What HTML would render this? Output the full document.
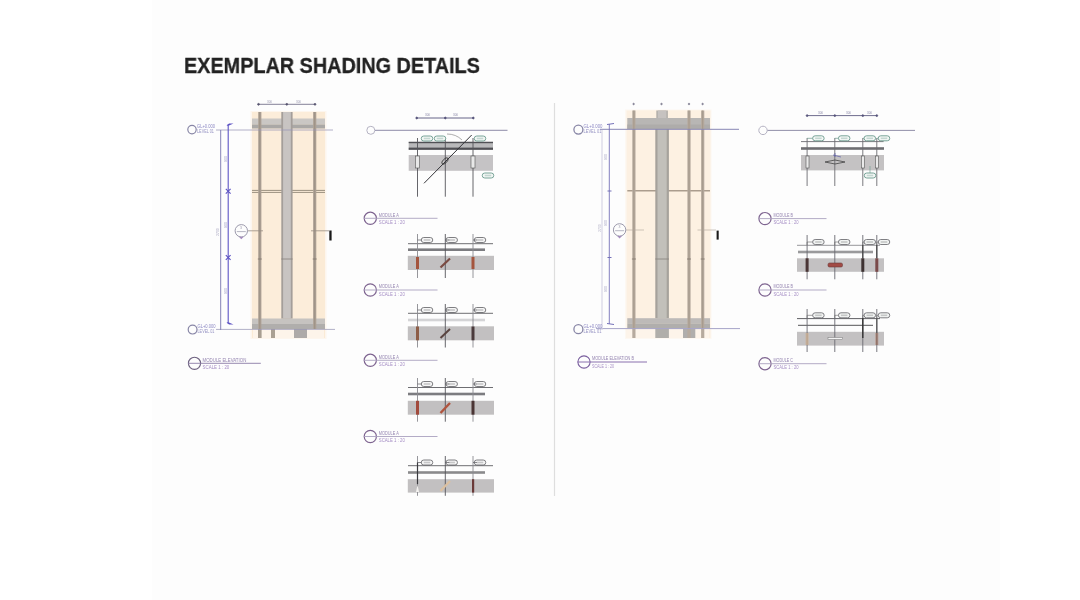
<!DOCTYPE html>
<html><head><meta charset="utf-8"><style>
html,body{margin:0;padding:0;background:#ffffff;}
body{width:1080px;height:600px;position:relative;overflow:hidden;font-family:"Liberation Sans",sans-serif;}
#slide{position:absolute;left:152px;top:0;width:848px;height:600px;background:#fdfdfd;}
#title{position:absolute;left:184px;top:52.8px;font-size:22.3px;font-weight:bold;color:#222;white-space:nowrap;transform-origin:0 0;transform:scaleX(0.889);will-change:transform;-webkit-text-stroke:0.3px #222;}
#wrap{position:absolute;left:0;top:0;width:1080px;height:600px;}
svg{position:absolute;left:0;top:0;}
</style></head><body>
<div id="slide"></div>
<div id="title">EXEMPLAR SHADING DETAILS</div>
<div id="wrap"><svg width="1080" height="600" viewBox="0 0 1080 600">
<rect x="250.5" y="111" width="76.0" height="228" fill="#fdf6ee" />
<rect x="252" y="112" width="73" height="226" fill="#fbebd6" />
<rect x="260.8" y="112" width="52.9" height="226" fill="#fcedda" />
<rect x="252" y="118.5" width="73" height="6.0" fill="#cac7c4" />
<rect x="252" y="124.5" width="73" height="4.0" fill="#aaa8a6" />
<line x1="252" y1="190.4" x2="325" y2="190.4" stroke="#8f8474" stroke-width="0.9" />
<line x1="252" y1="192.4" x2="325" y2="192.4" stroke="#8f8474" stroke-width="0.9" />
<rect x="252" y="318.5" width="73" height="5.5" fill="#c6c3c0" />
<rect x="252" y="324" width="73" height="5" fill="#b0aeac" />
<rect x="258.2" y="112" width="3.2" height="226" fill="#aea296" />
<line x1="259.8" y1="112" x2="259.8" y2="338" stroke="#9a8e82" stroke-width="0.9" />
<rect x="313.09999999999997" y="112" width="3.2" height="226" fill="#aea296" />
<line x1="314.7" y1="112" x2="314.7" y2="338" stroke="#9a8e82" stroke-width="0.9" />
<rect x="281.3" y="112" width="11.3" height="206.5" fill="#a49e9a" />
<rect x="283.1" y="112" width="7.7" height="206.5" fill="#c8c4c2" />
<rect x="253" y="329" width="71" height="9" fill="#fdf4ea" />
<rect x="258.0" y="329" width="3.6" height="9" fill="#a89e92" />
<rect x="271" y="329" width="4" height="9" fill="#aaa092" />
<rect x="294" y="329" width="13" height="9" fill="#aeaaa8" />
<line x1="257.8" y1="259" x2="261.8" y2="259" stroke="#7f746a" stroke-width="0.8" />
<line x1="312.7" y1="259" x2="316.7" y2="259" stroke="#7f746a" stroke-width="0.8" />
<line x1="281.3" y1="259" x2="292.6" y2="259" stroke="#86807c" stroke-width="0.8" />
<line x1="258.5" y1="104.3" x2="315" y2="104.3" stroke="#75738c" stroke-width="0.9" />
<circle cx="258.5" cy="104.3" r="0.9" stroke="#55536e" stroke-width="0.8" fill="#55536e"/>
<circle cx="286.8" cy="104.3" r="0.9" stroke="#55536e" stroke-width="0.8" fill="#55536e"/>
<circle cx="315" cy="104.3" r="0.9" stroke="#55536e" stroke-width="0.8" fill="#55536e"/>
<text x="267" y="102.5" font-size="3" fill="#9a98b0">300</text>
<text x="296" y="102.5" font-size="3" fill="#9a98b0">300</text>
<line x1="216" y1="130" x2="333" y2="130" stroke="#9896b6" stroke-width="0.75" />
<line x1="216" y1="329.4" x2="335" y2="329.4" stroke="#9896b6" stroke-width="0.75" />
<line x1="220.7" y1="130" x2="220.7" y2="330" stroke="#8380b6" stroke-width="1.0" />
<line x1="228.2" y1="124" x2="228.2" y2="324" stroke="#5e54c4" stroke-width="1.1" />
<path d="M226.5 126 L229 123.5 L233.5 123.5 L229 125.5 Z" fill="#5e54c4"/>
<path d="M226.5 322 L229 324.5 L233.5 324.5 L229 322.5 Z" fill="#5e54c4"/>
<line x1="225.8" y1="188.9" x2="230.6" y2="193.70000000000002" stroke="#5e54c4" stroke-width="1.1" />
<line x1="225.8" y1="193.70000000000002" x2="230.6" y2="188.9" stroke="#5e54c4" stroke-width="1.1" />
<line x1="225.8" y1="255.1" x2="230.6" y2="259.9" stroke="#5e54c4" stroke-width="1.1" />
<line x1="225.8" y1="259.9" x2="230.6" y2="255.1" stroke="#5e54c4" stroke-width="1.1" />
<text x="0" y="0" font-size="3.5" fill="#9a98c0" transform="translate(226.6 162) rotate(-90)">900</text>
<text x="0" y="0" font-size="3.5" fill="#9a98c0" transform="translate(226.6 228) rotate(-90)">900</text>
<text x="0" y="0" font-size="3.5" fill="#9a98c0" transform="translate(226.6 294) rotate(-90)">900</text>
<text x="0" y="0" font-size="3.5" fill="#a8a6c0" transform="translate(219.3 236) rotate(-90)">2700</text>
<circle cx="192" cy="129.6" r="4.2" stroke="#8886a6" stroke-width="1.2" fill="none"/>
<circle cx="192.6" cy="329.6" r="4.4" stroke="#8886a6" stroke-width="1.2" fill="none"/>
<text x="197" y="128.4" font-size="4.6" fill="#8c88c4" textLength="18" lengthAdjust="spacingAndGlyphs">GL+0.000</text>
<text x="197" y="133.4" font-size="4.6" fill="#9794c4" textLength="17" lengthAdjust="spacingAndGlyphs">LEVEL 01</text>
<text x="197.5" y="328.40000000000003" font-size="4.6" fill="#8c88c4" textLength="18" lengthAdjust="spacingAndGlyphs">GL+0.000</text>
<text x="197.5" y="333.40000000000003" font-size="4.6" fill="#9794c4" textLength="17" lengthAdjust="spacingAndGlyphs">LEVEL 01</text>
<circle cx="241.3" cy="230.8" r="6.2" stroke="#9a98aa" stroke-width="1.0" fill="#fdfdfd"/>
<line x1="236.8" y1="231.60000000000002" x2="245.8" y2="231.60000000000002" stroke="#9a98aa" stroke-width="0.7" />
<text x="240.10000000000002" y="229.3" font-size="3.5" fill="#9a98aa">3</text>
<path d="M238.9 236.8 L241.3 239.3 L243.70000000000002 236.8 Z" fill="#a48cbc"/>
<line x1="248" y1="230.8" x2="263" y2="230.8" stroke="#978c82" stroke-width="0.8" />
<line x1="311" y1="230.8" x2="329" y2="230.8" stroke="#978c82" stroke-width="0.8" />
<rect x="329.3" y="230.5" width="2.3" height="10.0" fill="#1a1a1a" />
<circle cx="194.5" cy="363.3" r="6.1" stroke="#6e6280" stroke-width="1.1" fill="none"/>
<line x1="188" y1="363.3" x2="260.8" y2="363.3" stroke="#8a7aa6" stroke-width="0.9" />
<text x="202.6" y="361.7" font-size="5" fill="#9484b0" textLength="43.7" lengthAdjust="spacingAndGlyphs">MODULE ELEVATION</text>
<text x="202.6" y="368.90000000000003" font-size="5" fill="#a48cc4" textLength="26.7" lengthAdjust="spacingAndGlyphs">SCALE 1 : 20</text>
<line x1="416.7" y1="118" x2="473.3" y2="118" stroke="#55537a" stroke-width="0.9" />
<circle cx="416.7" cy="118" r="0.9" stroke="#55537a" stroke-width="0.8" fill="#55537a"/>
<circle cx="445.3" cy="118" r="0.9" stroke="#55537a" stroke-width="0.8" fill="#55537a"/>
<circle cx="473.3" cy="118" r="0.9" stroke="#55537a" stroke-width="0.8" fill="#55537a"/>
<circle cx="370.8" cy="130.3" r="4.0" stroke="#b4b2c2" stroke-width="1.0" fill="none"/>
<line x1="375" y1="130.3" x2="507.5" y2="130.3" stroke="#807e9e" stroke-width="0.9" />
<rect x="408.7" y="141.8" width="84.3" height="8.0" fill="#b9b9bb" />
<rect x="408.7" y="141.8" width="84.3" height="1.4" fill="#505055" />
<rect x="408.7" y="147.6" width="84.3" height="2.2" fill="#505055" />
<text x="425" y="116" font-size="3" fill="#8a88a8">300</text>
<text x="453" y="116" font-size="3" fill="#8a88a8">300</text>
<path d="M447 134 Q456 134 462 140" fill="none" stroke="#777" stroke-width="0.6"/>
<rect x="408.7" y="155" width="84.3" height="15.8" fill="#c5c3c5" />
<line x1="417.5" y1="138" x2="417.5" y2="196.7" stroke="#55555a" stroke-width="0.9" />
<line x1="445.3" y1="138" x2="445.3" y2="196.7" stroke="#55555a" stroke-width="0.9" />
<line x1="473" y1="138" x2="473" y2="196.7" stroke="#55555a" stroke-width="0.9" />
<line x1="424" y1="183.3" x2="471.7" y2="135" stroke="#333338" stroke-width="1.0" />
<rect x="421.25" y="136.0" width="11.5" height="5" rx="2.5" fill="#f4f8f6" stroke="#6a9a8c" stroke-width="0.9"/>
<rect x="423.75" y="137.7" width="6.5" height="1.6" fill="#6a9a8c" opacity="0.35"/>
<rect x="434.25" y="136.0" width="11.5" height="5" rx="2.5" fill="#f4f8f6" stroke="#6a9a8c" stroke-width="0.9"/>
<rect x="436.75" y="137.7" width="6.5" height="1.6" fill="#6a9a8c" opacity="0.35"/>
<rect x="474.25" y="136.0" width="11.5" height="5" rx="2.5" fill="#f4f8f6" stroke="#6a9a8c" stroke-width="0.9"/>
<rect x="476.75" y="137.7" width="6.5" height="1.6" fill="#6a9a8c" opacity="0.35"/>
<rect x="482.25" y="173.0" width="11.5" height="5" rx="2.5" fill="#f4f8f6" stroke="#6a9a8c" stroke-width="0.9"/>
<rect x="484.75" y="174.7" width="6.5" height="1.6" fill="#6a9a8c" opacity="0.35"/>
<ellipse cx="445" cy="161" rx="4" ry="2" fill="none" stroke="#333" stroke-width="0.8" transform="rotate(-45 445 161)"/>
<rect x="415.5" y="156" width="4.0" height="12" fill="#e8e8e8" stroke="#555" stroke-width="0.6"/>
<rect x="471" y="156" width="4" height="12" fill="#e8e8e8" stroke="#555" stroke-width="0.6"/>
<circle cx="370.3" cy="218.3" r="6.1" stroke="#7e6490" stroke-width="1.2" fill="none"/>
<line x1="363.8" y1="218.3" x2="437.5" y2="218.3" stroke="#aaa2c0" stroke-width="0.9" />
<text x="378.8" y="216.70000000000002" font-size="5" fill="#9484b0" textLength="20" lengthAdjust="spacingAndGlyphs">MODULE A</text>
<text x="378.8" y="223.9" font-size="5" fill="#a48cc4" textLength="26" lengthAdjust="spacingAndGlyphs">SCALE 1 : 20</text>
<rect x="421.25" y="237.5" width="11.5" height="5" rx="2.5" fill="#f6f6f6" stroke="#707074" stroke-width="0.9"/>
<rect x="423.75" y="239.2" width="6.5" height="1.6" fill="#707074" opacity="0.35"/>
<rect x="445.95" y="237.5" width="11.5" height="5" rx="2.5" fill="#f6f6f6" stroke="#707074" stroke-width="0.9"/>
<rect x="448.45" y="239.2" width="6.5" height="1.6" fill="#707074" opacity="0.35"/>
<rect x="474.25" y="237.5" width="11.5" height="5" rx="2.5" fill="#f6f6f6" stroke="#707074" stroke-width="0.9"/>
<rect x="476.75" y="239.2" width="6.5" height="1.6" fill="#707074" opacity="0.35"/>
<line x1="408" y1="243.7" x2="493" y2="243.7" stroke="#5d5d62" stroke-width="0.9" />
<rect x="408" y="248.39999999999998" width="77" height="2.6" fill="#7c7c80" />
<rect x="407.8" y="255.8" width="86.2" height="14.2" fill="#c2c0c1" />
<line x1="417.5" y1="234" x2="417.5" y2="278" stroke="#8a8a90" stroke-width="0.9" />
<line x1="417.5" y1="240" x2="421.5" y2="240" stroke="#5a5a60" stroke-width="0.7" />
<line x1="445.3" y1="234" x2="445.3" y2="278" stroke="#55555a" stroke-width="0.9" />
<line x1="445.3" y1="240" x2="449.3" y2="240" stroke="#5a5a60" stroke-width="0.7" />
<line x1="473" y1="234" x2="473" y2="278" stroke="#8a8a90" stroke-width="0.9" />
<line x1="473" y1="240" x2="477" y2="240" stroke="#5a5a60" stroke-width="0.7" />
<rect x="416" y="257" width="3" height="12" fill="#a4553e"/>
<rect x="471.5" y="257" width="3" height="12" fill="#a4553e"/>
<line x1="440.5" y1="267.5" x2="450" y2="258.5" stroke="#7a4a42" stroke-width="2.2"/>
<circle cx="370.3" cy="290" r="6.1" stroke="#7e6490" stroke-width="1.2" fill="none"/>
<line x1="363.8" y1="290" x2="437.5" y2="290" stroke="#aaa2c0" stroke-width="0.9" />
<text x="378.8" y="288.4" font-size="5" fill="#9484b0" textLength="20" lengthAdjust="spacingAndGlyphs">MODULE A</text>
<text x="378.8" y="295.6" font-size="5" fill="#a48cc4" textLength="26" lengthAdjust="spacingAndGlyphs">SCALE 1 : 20</text>
<rect x="421.25" y="307.5" width="11.5" height="5" rx="2.5" fill="#f6f6f6" stroke="#707074" stroke-width="0.9"/>
<rect x="423.75" y="309.2" width="6.5" height="1.6" fill="#707074" opacity="0.35"/>
<rect x="445.95" y="307.5" width="11.5" height="5" rx="2.5" fill="#f6f6f6" stroke="#707074" stroke-width="0.9"/>
<rect x="448.45" y="309.2" width="6.5" height="1.6" fill="#707074" opacity="0.35"/>
<rect x="474.25" y="307.5" width="11.5" height="5" rx="2.5" fill="#f6f6f6" stroke="#707074" stroke-width="0.9"/>
<rect x="476.75" y="309.2" width="6.5" height="1.6" fill="#707074" opacity="0.35"/>
<line x1="408" y1="313.3" x2="493" y2="313.3" stroke="#5d5d62" stroke-width="0.9" />
<rect x="408" y="318.7" width="77" height="2.6" fill="#d4d4d6" />
<rect x="407.8" y="326.3" width="86.2" height="14.0" fill="#c2c0c1" />
<line x1="417.5" y1="304" x2="417.5" y2="347.5" stroke="#8a8a90" stroke-width="0.9" />
<line x1="417.5" y1="310" x2="421.5" y2="310" stroke="#5a5a60" stroke-width="0.7" />
<line x1="445.3" y1="304" x2="445.3" y2="347.5" stroke="#55555a" stroke-width="0.9" />
<line x1="445.3" y1="310" x2="449.3" y2="310" stroke="#5a5a60" stroke-width="0.7" />
<line x1="473" y1="304" x2="473" y2="347.5" stroke="#8a8a90" stroke-width="0.9" />
<line x1="473" y1="310" x2="477" y2="310" stroke="#5a5a60" stroke-width="0.7" />
<rect x="416" y="326.5" width="3" height="13.8" fill="#8e5e48"/>
<rect x="471.5" y="326.5" width="3" height="13.8" fill="#4a3a3c"/>
<line x1="440.5" y1="338" x2="450" y2="329" stroke="#5a4440" stroke-width="2.0"/>
<circle cx="370.3" cy="360.3" r="6.1" stroke="#7e6490" stroke-width="1.2" fill="none"/>
<line x1="363.8" y1="360.3" x2="437.5" y2="360.3" stroke="#aaa2c0" stroke-width="0.9" />
<text x="378.8" y="358.7" font-size="5" fill="#9484b0" textLength="20" lengthAdjust="spacingAndGlyphs">MODULE A</text>
<text x="378.8" y="365.90000000000003" font-size="5" fill="#a48cc4" textLength="26" lengthAdjust="spacingAndGlyphs">SCALE 1 : 20</text>
<rect x="421.25" y="381.5" width="11.5" height="5" rx="2.5" fill="#f6f6f6" stroke="#707074" stroke-width="0.9"/>
<rect x="423.75" y="383.2" width="6.5" height="1.6" fill="#707074" opacity="0.35"/>
<rect x="445.95" y="381.5" width="11.5" height="5" rx="2.5" fill="#f6f6f6" stroke="#707074" stroke-width="0.9"/>
<rect x="448.45" y="383.2" width="6.5" height="1.6" fill="#707074" opacity="0.35"/>
<rect x="474.25" y="381.5" width="11.5" height="5" rx="2.5" fill="#f6f6f6" stroke="#707074" stroke-width="0.9"/>
<rect x="476.75" y="383.2" width="6.5" height="1.6" fill="#707074" opacity="0.35"/>
<line x1="408" y1="387.5" x2="493" y2="387.5" stroke="#5d5d62" stroke-width="0.9" />
<rect x="408" y="392.7" width="77" height="2.6" fill="#7c7c80" />
<rect x="407.8" y="400.8" width="86.2" height="13.9" fill="#c2c0c1" />
<line x1="417.5" y1="378" x2="417.5" y2="421.7" stroke="#8a8a90" stroke-width="0.9" />
<line x1="417.5" y1="384" x2="421.5" y2="384" stroke="#5a5a60" stroke-width="0.7" />
<line x1="445.3" y1="378" x2="445.3" y2="421.7" stroke="#55555a" stroke-width="0.9" />
<line x1="445.3" y1="384" x2="449.3" y2="384" stroke="#5a5a60" stroke-width="0.7" />
<line x1="473" y1="378" x2="473" y2="421.7" stroke="#8a8a90" stroke-width="0.9" />
<line x1="473" y1="384" x2="477" y2="384" stroke="#5a5a60" stroke-width="0.7" />
<rect x="416" y="400.8" width="3" height="13.9" fill="#a24a3c"/>
<rect x="471.5" y="400.8" width="3" height="13.9" fill="#4a3434"/>
<line x1="440.5" y1="413" x2="450" y2="403" stroke="#b0543e" stroke-width="2.4"/>
<circle cx="370.3" cy="436.5" r="6.1" stroke="#7e6490" stroke-width="1.2" fill="none"/>
<line x1="363.8" y1="436.5" x2="437.5" y2="436.5" stroke="#aaa2c0" stroke-width="0.9" />
<text x="378.8" y="434.9" font-size="5" fill="#9484b0" textLength="20" lengthAdjust="spacingAndGlyphs">MODULE A</text>
<text x="378.8" y="442.1" font-size="5" fill="#a48cc4" textLength="26" lengthAdjust="spacingAndGlyphs">SCALE 1 : 20</text>
<rect x="421.25" y="460.0" width="11.5" height="5" rx="2.5" fill="#f6f6f6" stroke="#707074" stroke-width="0.9"/>
<rect x="423.75" y="461.7" width="6.5" height="1.6" fill="#707074" opacity="0.35"/>
<rect x="445.95" y="460.0" width="11.5" height="5" rx="2.5" fill="#f6f6f6" stroke="#707074" stroke-width="0.9"/>
<rect x="448.45" y="461.7" width="6.5" height="1.6" fill="#707074" opacity="0.35"/>
<rect x="474.25" y="460.0" width="11.5" height="5" rx="2.5" fill="#f6f6f6" stroke="#707074" stroke-width="0.9"/>
<rect x="476.75" y="461.7" width="6.5" height="1.6" fill="#707074" opacity="0.35"/>
<line x1="408" y1="465.7" x2="493" y2="465.7" stroke="#5d5d62" stroke-width="0.9" />
<rect x="408" y="471.2" width="77" height="2.6" fill="#8a8a8c" />
<rect x="407.8" y="479.2" width="86.2" height="13.4" fill="#c2c0c1" />
<line x1="417.5" y1="456" x2="417.5" y2="495.8" stroke="#8a8a90" stroke-width="0.9" />
<line x1="417.5" y1="462.5" x2="421.5" y2="462.5" stroke="#5a5a60" stroke-width="0.7" />
<line x1="445.3" y1="456" x2="445.3" y2="495.8" stroke="#55555a" stroke-width="0.9" />
<line x1="445.3" y1="462.5" x2="449.3" y2="462.5" stroke="#5a5a60" stroke-width="0.7" />
<line x1="473" y1="456" x2="473" y2="495.8" stroke="#8a8a90" stroke-width="0.9" />
<line x1="473" y1="462.5" x2="477" y2="462.5" stroke="#5a5a60" stroke-width="0.7" />
<path d="M416 492 L417.5 485 L419 492 Z" fill="#f4f2f0"/>
<line x1="417.5" y1="462.5" x2="417.5" y2="484" stroke="#3a3a3e" stroke-width="1.2"/>
<rect x="472" y="479.2" width="2.2" height="13.4" fill="#6a3a38"/>
<line x1="440.5" y1="491" x2="450" y2="481" stroke="#dcc0a0" stroke-width="2.2"/>
<line x1="554.5" y1="103" x2="554.5" y2="496" stroke="#dedede" stroke-width="1.2" />
<rect x="625" y="109.5" width="86.5" height="229.5" fill="#fdf8f2" />
<rect x="626.5" y="110.5" width="84.0" height="227.5" fill="#fcf0e2" />
<rect x="634.9" y="110.5" width="66.8" height="227.5" fill="#fdf1e2" />
<rect x="627.3" y="118" width="82.7" height="11" fill="#b8b6b4" />
<rect x="627.3" y="124.5" width="82.7" height="4.5" fill="#aeacaa" />
<line x1="627.3" y1="190.8" x2="710" y2="190.8" stroke="#ab9d8e" stroke-width="1.4" />
<rect x="627.3" y="318.2" width="82.7" height="5.1" fill="#bdbab8" />
<rect x="627.3" y="323.3" width="82.7" height="5.2" fill="#b0aeac" />
<rect x="632.3" y="110.5" width="3.2" height="227.5" fill="#b6aa9e" />
<line x1="633.9" y1="110.5" x2="633.9" y2="338" stroke="#a39689" stroke-width="0.9" />
<rect x="687.4" y="110.5" width="3.2" height="227.5" fill="#b6aa9e" />
<line x1="689" y1="110.5" x2="689" y2="338" stroke="#a39689" stroke-width="0.9" />
<rect x="701.1" y="110.5" width="3.2" height="227.5" fill="#b6aa9e" />
<line x1="702.7" y1="110.5" x2="702.7" y2="338" stroke="#a39689" stroke-width="0.9" />
<rect x="656.3" y="110.5" width="11.6" height="7.5" fill="#b4b0ac" />
<rect x="657.9" y="110.5" width="8.4" height="7.5" fill="#c6c2c0" />
<rect x="655.3" y="129" width="13.6" height="189.2" fill="#a6a29c" />
<rect x="657.5" y="129" width="9.2" height="189.2" fill="#c2c0ba" />
<rect x="627" y="329" width="82" height="9" fill="#fdf4ea" />
<rect x="655.3" y="328.5" width="13.6" height="9.5" fill="#b0aeaa" />
<rect x="683" y="328.5" width="12.3" height="9.5" fill="#b0aeac" />
<rect x="632.3" y="328.5" width="3.2" height="9.5" fill="#b6aa9e" />
<rect x="687.4" y="328.5" width="3.2" height="9.5" fill="#b6aa9e" />
<rect x="701.1" y="328.5" width="3.2" height="9.5" fill="#b6aa9e" />
<line x1="631.9" y1="259" x2="635.9" y2="259" stroke="#7f746a" stroke-width="0.8" />
<line x1="687" y1="259" x2="691" y2="259" stroke="#7f746a" stroke-width="0.8" />
<line x1="700.7" y1="259" x2="704.7" y2="259" stroke="#7f746a" stroke-width="0.8" />
<line x1="655.3" y1="259" x2="668.9" y2="259" stroke="#86807c" stroke-width="0.8" />
<circle cx="633.6" cy="104" r="0.8" stroke="#77758a" stroke-width="0.6" fill="#77758a"/>
<circle cx="661.5" cy="104" r="0.8" stroke="#77758a" stroke-width="0.6" fill="#77758a"/>
<circle cx="689" cy="104" r="0.8" stroke="#77758a" stroke-width="0.6" fill="#77758a"/>
<circle cx="702.6" cy="104" r="0.8" stroke="#77758a" stroke-width="0.6" fill="#77758a"/>
<line x1="600" y1="129.3" x2="739" y2="129.3" stroke="#8886b4" stroke-width="1.0" />
<line x1="596" y1="328.6" x2="740" y2="328.6" stroke="#a6a4c8" stroke-width="1.0" />
<line x1="602" y1="130" x2="602" y2="330" stroke="#cfcde0" stroke-width="1.0" />
<line x1="609.3" y1="124" x2="609.3" y2="324" stroke="#7470b8" stroke-width="0.9" />
<line x1="607" y1="124.5" x2="614" y2="123.5" stroke="#7470b8" stroke-width="1.0" />
<line x1="607" y1="323.5" x2="614" y2="324.5" stroke="#7470b8" stroke-width="1.0" />
<line x1="607.5" y1="191" x2="611.5" y2="191" stroke="#7470b8" stroke-width="1.0" />
<line x1="607.5" y1="257.5" x2="611.5" y2="257.5" stroke="#7470b8" stroke-width="1.0" />
<text x="0" y="0" font-size="3.5" fill="#a4a2c4" transform="translate(607 160) rotate(-90)">900</text>
<text x="0" y="0" font-size="3.5" fill="#a4a2c4" transform="translate(607 226) rotate(-90)">900</text>
<text x="0" y="0" font-size="3.5" fill="#a4a2c4" transform="translate(607 292) rotate(-90)">900</text>
<text x="0" y="0" font-size="3.5" fill="#b4b2c8" transform="translate(601 232) rotate(-90)">2700</text>
<circle cx="578.4" cy="129.6" r="4.5" stroke="#8886a6" stroke-width="1.3" fill="none"/>
<circle cx="578.4" cy="329.2" r="4.5" stroke="#8886a6" stroke-width="1.3" fill="none"/>
<text x="583.5" y="128.4" font-size="4.6" fill="#8c88c4" textLength="19" lengthAdjust="spacingAndGlyphs">GL+0.000</text>
<text x="583.5" y="133.4" font-size="4.6" fill="#9794c4" textLength="18" lengthAdjust="spacingAndGlyphs">LEVEL 01</text>
<text x="583.5" y="328.0" font-size="4.6" fill="#8c88c4" textLength="19" lengthAdjust="spacingAndGlyphs">GL+0.000</text>
<text x="583.5" y="333.0" font-size="4.6" fill="#9794c4" textLength="18" lengthAdjust="spacingAndGlyphs">LEVEL 01</text>
<circle cx="619.6" cy="229.9" r="6.2" stroke="#9a98aa" stroke-width="1.0" fill="#fdfdfd"/>
<line x1="615.1" y1="230.70000000000002" x2="624.1" y2="230.70000000000002" stroke="#9a98aa" stroke-width="0.7" />
<text x="618.4" y="228.4" font-size="3.5" fill="#9a98aa">3</text>
<path d="M617.2 235.9 L619.6 238.4 L622.0 235.9 Z" fill="#a48cbc"/>
<line x1="626" y1="230" x2="644" y2="230" stroke="#b0a59a" stroke-width="0.6" />
<line x1="697.5" y1="230" x2="716" y2="230" stroke="#b0a59a" stroke-width="0.6" />
<rect x="716.6" y="230.6" width="2.1" height="9.0" fill="#1a1a1a" />
<circle cx="584" cy="362" r="6.1" stroke="#7a5f9e" stroke-width="1.1" fill="none"/>
<line x1="577.5" y1="362" x2="647" y2="362" stroke="#8a70ae" stroke-width="1.0" />
<text x="592" y="360.4" font-size="5" fill="#9484b0" textLength="42" lengthAdjust="spacingAndGlyphs">MODULE ELEVATION B</text>
<text x="592" y="367.6" font-size="5" fill="#a48cc4" textLength="22" lengthAdjust="spacingAndGlyphs">SCALE 1 : 20</text>
<line x1="807" y1="115.6" x2="877" y2="115.6" stroke="#5d5b80" stroke-width="0.9" />
<circle cx="807.1" cy="115.6" r="0.9" stroke="#55537a" stroke-width="0.8" fill="#55537a"/>
<circle cx="834.8" cy="115.6" r="0.9" stroke="#55537a" stroke-width="0.8" fill="#55537a"/>
<circle cx="862.8" cy="115.6" r="0.9" stroke="#55537a" stroke-width="0.8" fill="#55537a"/>
<circle cx="876.8" cy="115.6" r="0.9" stroke="#55537a" stroke-width="0.8" fill="#55537a"/>
<text x="818" y="113.8" font-size="3" fill="#8a88a8">300</text>
<text x="846" y="113.8" font-size="3" fill="#8a88a8">300</text>
<text x="867" y="113.8" font-size="3" fill="#8a88a8">300</text>
<circle cx="763" cy="130.4" r="4.2" stroke="#b4b2c2" stroke-width="1.0" fill="none"/>
<line x1="767.5" y1="130.4" x2="915" y2="130.4" stroke="#84829e" stroke-width="0.9" />
<line x1="801" y1="141.6" x2="883.6" y2="141.6" stroke="#6a6a70" stroke-width="0.9" />
<rect x="801" y="147.2" width="83" height="2.6" fill="#6e6e72" />
<rect x="801" y="155" width="83" height="15.4" fill="#c4c2c3" />
<line x1="807.1" y1="138" x2="807.1" y2="186" stroke="#6c6c72" stroke-width="0.9" />
<line x1="834.8" y1="138" x2="834.8" y2="186" stroke="#6c6c72" stroke-width="0.9" />
<line x1="862.8" y1="138" x2="862.8" y2="186" stroke="#6c6c72" stroke-width="0.9" />
<line x1="876.8" y1="138" x2="876.8" y2="186" stroke="#6c6c72" stroke-width="0.9" />
<line x1="807.1" y1="138.3" x2="812.9" y2="138.3" stroke="#6a9a8c" stroke-width="0.7" />
<rect x="812.65" y="135.8" width="11.5" height="5" rx="2.5" fill="#f4f8f6" stroke="#6a9a8c" stroke-width="0.9"/>
<rect x="815.15" y="137.5" width="6.5" height="1.6" fill="#6a9a8c" opacity="0.35"/>
<line x1="834.8" y1="138.3" x2="838.7" y2="138.3" stroke="#6a9a8c" stroke-width="0.7" />
<rect x="838.45" y="135.8" width="11.5" height="5" rx="2.5" fill="#f4f8f6" stroke="#6a9a8c" stroke-width="0.9"/>
<rect x="840.95" y="137.5" width="6.5" height="1.6" fill="#6a9a8c" opacity="0.35"/>
<line x1="862.8" y1="138.3" x2="864.3" y2="138.3" stroke="#6a9a8c" stroke-width="0.7" />
<rect x="864.05" y="135.8" width="11.5" height="5" rx="2.5" fill="#f4f8f6" stroke="#6a9a8c" stroke-width="0.9"/>
<rect x="866.55" y="137.5" width="6.5" height="1.6" fill="#6a9a8c" opacity="0.35"/>
<line x1="876.8" y1="138.3" x2="878.5" y2="138.3" stroke="#6a9a8c" stroke-width="0.7" />
<rect x="878.25" y="135.8" width="11.5" height="5" rx="2.5" fill="#f4f8f6" stroke="#6a9a8c" stroke-width="0.9"/>
<rect x="880.75" y="137.5" width="6.5" height="1.6" fill="#6a9a8c" opacity="0.35"/>
<rect x="864.25" y="173.0" width="11.5" height="5" rx="2.5" fill="#f4f8f6" stroke="#6a9a8c" stroke-width="0.9"/>
<rect x="866.75" y="174.7" width="6.5" height="1.6" fill="#6a9a8c" opacity="0.35"/>
<line x1="870" y1="166" x2="870" y2="173" stroke="#6a9a8c" stroke-width="0.6" />
<rect x="806" y="156" width="3" height="12" fill="#eaeaea" stroke="#555" stroke-width="0.6"/>
<rect x="861.5" y="156" width="3.0" height="12" fill="#eaeaea" stroke="#555" stroke-width="0.6"/>
<rect x="875.5" y="156" width="3.0" height="12" fill="#eaeaea" stroke="#555" stroke-width="0.6"/>
<path d="M825 162 L835 160 L845 162 L835 164 Z" fill="none" stroke="#444" stroke-width="0.8"/>
<path d="M835 153 L835 157 M833 155 L841 157" fill="none" stroke="#5a5aa8" stroke-width="0.7"/>
<circle cx="765" cy="218.6" r="6.1" stroke="#7e6490" stroke-width="1.2" fill="none"/>
<line x1="758.5" y1="218.6" x2="826.5" y2="218.6" stroke="#aaa2c0" stroke-width="0.9" />
<text x="773.5" y="217.0" font-size="5" fill="#9484b0" textLength="19.5" lengthAdjust="spacingAndGlyphs">MODULE B</text>
<text x="773.5" y="224.2" font-size="5" fill="#a48cc4" textLength="25" lengthAdjust="spacingAndGlyphs">SCALE 1 : 20</text>
<line x1="797" y1="245.3" x2="880" y2="245.3" stroke="#8a8a8e" stroke-width="0.9" />
<rect x="798" y="250.7" width="75" height="2.6" fill="#9a9a9c" />
<rect x="797" y="258.3" width="87" height="13.5" fill="#c3c1c2" />
<line x1="807.1" y1="235" x2="807.1" y2="279.3" stroke="#6a6a70" stroke-width="0.9" />
<line x1="834.8" y1="235" x2="834.8" y2="279.3" stroke="#6a6a70" stroke-width="0.9" />
<line x1="862.8" y1="235" x2="862.8" y2="279.3" stroke="#6a6a70" stroke-width="0.9" />
<line x1="876.8" y1="235" x2="876.8" y2="279.3" stroke="#6a6a70" stroke-width="0.9" />
<rect x="805.6" y="258.3" width="3" height="13.5" fill="#4a3636"/>
<rect x="861.3" y="258.3" width="3" height="13.5" fill="#3e3232"/>
<rect x="875.3" y="258.3" width="3" height="13.5" fill="#7a4a4a"/>
<line x1="862.8" y1="245" x2="862.8" y2="258" stroke="#444" stroke-width="1.2"/>
<line x1="876.8" y1="245" x2="876.8" y2="258" stroke="#444" stroke-width="1.2"/>
<rect x="828" y="263" width="14.5" height="4" rx="1.5" fill="#a24a44" stroke="#6a3a3a" stroke-width="0.6"/>
<path d="M807.1 245 L807.1 242 L812.9 242" fill="none" stroke="#666" stroke-width="0.6"/>
<rect x="812.65" y="239.5" width="11.5" height="5" rx="2.5" fill="#f2f4f3" stroke="#727276" stroke-width="0.9"/>
<rect x="815.15" y="241.2" width="6.5" height="1.6" fill="#727276" opacity="0.35"/>
<path d="M834.8 245 L834.8 242 L838.7 242" fill="none" stroke="#666" stroke-width="0.6"/>
<rect x="838.45" y="239.5" width="11.5" height="5" rx="2.5" fill="#f2f4f3" stroke="#727276" stroke-width="0.9"/>
<rect x="840.95" y="241.2" width="6.5" height="1.6" fill="#727276" opacity="0.35"/>
<path d="M862.8 245 L862.8 242 L864.3 242" fill="none" stroke="#666" stroke-width="0.6"/>
<rect x="864.05" y="239.5" width="11.5" height="5" rx="2.5" fill="#f2f4f3" stroke="#727276" stroke-width="0.9"/>
<rect x="866.55" y="241.2" width="6.5" height="1.6" fill="#727276" opacity="0.35"/>
<path d="M876.8 245 L876.8 242 L878.5 242" fill="none" stroke="#666" stroke-width="0.6"/>
<rect x="878.25" y="239.5" width="11.5" height="5" rx="2.5" fill="#f2f4f3" stroke="#727276" stroke-width="0.9"/>
<rect x="880.75" y="241.2" width="6.5" height="1.6" fill="#727276" opacity="0.35"/>
<circle cx="765" cy="290" r="6.1" stroke="#7e6490" stroke-width="1.2" fill="none"/>
<line x1="758.5" y1="290" x2="826.5" y2="290" stroke="#aaa2c0" stroke-width="0.9" />
<text x="773.5" y="288.4" font-size="5" fill="#9484b0" textLength="19.5" lengthAdjust="spacingAndGlyphs">MODULE B</text>
<text x="773.5" y="295.6" font-size="5" fill="#a48cc4" textLength="25" lengthAdjust="spacingAndGlyphs">SCALE 1 : 20</text>
<line x1="797" y1="318.6" x2="880" y2="318.6" stroke="#4e4e52" stroke-width="0.9" />
<rect x="798" y="324.8" width="75" height="1.0" fill="#555558" />
<rect x="797" y="331.8" width="87" height="13.8" fill="#c3c1c2" />
<line x1="807.1" y1="309" x2="807.1" y2="352" stroke="#6a6a70" stroke-width="0.9" />
<line x1="834.8" y1="309" x2="834.8" y2="352" stroke="#6a6a70" stroke-width="0.9" />
<line x1="862.8" y1="309" x2="862.8" y2="352" stroke="#6a6a70" stroke-width="0.9" />
<line x1="876.8" y1="309" x2="876.8" y2="352" stroke="#6a6a70" stroke-width="0.9" />
<rect x="805.6" y="333" width="3" height="12" fill="#d0b090" opacity="0.7"/>
<line x1="862.8" y1="318" x2="862.8" y2="338" stroke="#333" stroke-width="1.4"/>
<line x1="876.8" y1="318" x2="876.8" y2="345" stroke="#555" stroke-width="1.2"/>
<rect x="875.3" y="333" width="3" height="12" fill="#b08070" opacity="0.6"/>
<rect x="828" y="337.5" width="14.5" height="2" fill="#f2f2f2" stroke="#777" stroke-width="0.5"/>
<path d="M807.1 318.3 L807.1 315.3 L812.9 315.3" fill="none" stroke="#666" stroke-width="0.6"/>
<rect x="812.65" y="312.8" width="11.5" height="5" rx="2.5" fill="#f2f4f3" stroke="#727276" stroke-width="0.9"/>
<rect x="815.15" y="314.5" width="6.5" height="1.6" fill="#727276" opacity="0.35"/>
<path d="M834.8 318.3 L834.8 315.3 L838.7 315.3" fill="none" stroke="#666" stroke-width="0.6"/>
<rect x="838.45" y="312.8" width="11.5" height="5" rx="2.5" fill="#f2f4f3" stroke="#727276" stroke-width="0.9"/>
<rect x="840.95" y="314.5" width="6.5" height="1.6" fill="#727276" opacity="0.35"/>
<path d="M862.8 318.3 L862.8 315.3 L864.3 315.3" fill="none" stroke="#666" stroke-width="0.6"/>
<rect x="864.05" y="312.8" width="11.5" height="5" rx="2.5" fill="#f2f4f3" stroke="#727276" stroke-width="0.9"/>
<rect x="866.55" y="314.5" width="6.5" height="1.6" fill="#727276" opacity="0.35"/>
<path d="M876.8 318.3 L876.8 315.3 L878.5 315.3" fill="none" stroke="#666" stroke-width="0.6"/>
<rect x="878.25" y="312.8" width="11.5" height="5" rx="2.5" fill="#f2f4f3" stroke="#727276" stroke-width="0.9"/>
<rect x="880.75" y="314.5" width="6.5" height="1.6" fill="#727276" opacity="0.35"/>
<circle cx="765" cy="363.7" r="6.1" stroke="#7e6490" stroke-width="1.2" fill="none"/>
<line x1="758.5" y1="363.7" x2="826.5" y2="363.7" stroke="#aaa2c0" stroke-width="0.9" />
<text x="773.5" y="362.09999999999997" font-size="5" fill="#9484b0" textLength="19.5" lengthAdjust="spacingAndGlyphs">MODULE C</text>
<text x="773.5" y="369.3" font-size="5" fill="#a48cc4" textLength="25" lengthAdjust="spacingAndGlyphs">SCALE 1 : 20</text>
</svg></div>
</body></html>
